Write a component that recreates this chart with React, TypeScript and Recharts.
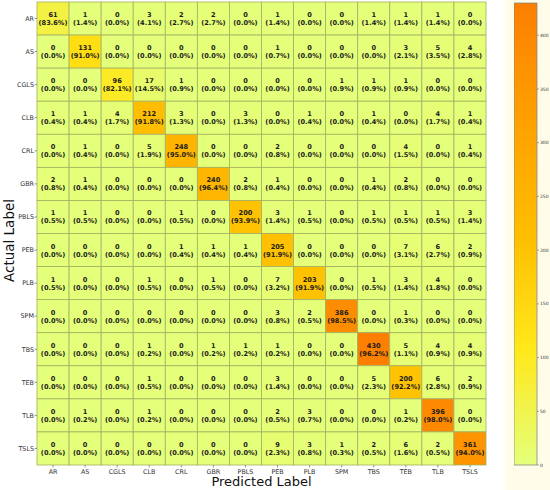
import React from 'react';
import { ScatterChart, Scatter, XAxis, YAxis, ReferenceArea } from 'recharts';

const LABELS = ['AR', 'AS', 'CGLS', 'CLB', 'CRL', 'GBR', 'PBLS', 'PEB', 'PLB', 'SPM', 'TBS', 'TEB', 'TLB', 'TSLS'];

// rows = actual, columns = predicted
const COUNTS: number[][] = [
  [61, 1, 0, 3, 2, 2, 0, 1, 0, 0, 1, 1, 1, 0],
  [0, 131, 0, 0, 0, 0, 0, 1, 0, 0, 0, 3, 5, 4],
  [0, 0, 96, 17, 1, 0, 0, 0, 0, 1, 1, 1, 0, 0],
  [1, 1, 4, 212, 3, 0, 3, 0, 1, 0, 1, 0, 4, 1],
  [0, 1, 0, 5, 248, 0, 0, 2, 0, 0, 0, 4, 0, 1],
  [2, 1, 0, 0, 0, 240, 2, 1, 0, 0, 1, 2, 0, 0],
  [1, 1, 0, 0, 1, 0, 200, 3, 1, 0, 1, 1, 1, 3],
  [0, 0, 0, 0, 1, 1, 1, 205, 0, 0, 0, 7, 6, 2],
  [1, 0, 0, 1, 0, 1, 0, 7, 203, 0, 1, 3, 4, 0],
  [0, 0, 0, 0, 0, 0, 0, 3, 2, 386, 0, 1, 0, 0],
  [0, 0, 0, 1, 0, 1, 1, 1, 0, 0, 430, 5, 4, 4],
  [0, 0, 0, 1, 0, 0, 0, 3, 0, 0, 5, 200, 6, 2],
  [0, 1, 0, 1, 0, 0, 0, 2, 3, 0, 0, 1, 396, 0],
  [0, 0, 0, 0, 0, 0, 0, 9, 3, 1, 2, 6, 2, 361],
];

const COLORBAR_TICKS = [0, 50, 100, 150, 200, 250, 300, 350, 400];
const VMAX = 430;

// matplotlib Wistia
const WISTIA: [number, number, number, number][] = [
  [0, 228, 255, 122],
  [0.25, 255, 232, 26],
  [0.5, 255, 189, 0],
  [0.75, 255, 160, 0],
  [1, 252, 127, 0],
];

function wistia(t: number) {
  t = Math.max(0, Math.min(1, t));
  for (let i = 1; i < WISTIA.length; i++) {
    const a = WISTIA[i - 1];
    const b = WISTIA[i];
    if (t <= b[0]) {
      const f = (t - a[0]) / (b[0] - a[0]);
      const c = [1, 2, 3].map(k => Math.round(a[k] + (b[k] - a[k]) * f));
      return `rgb(${c[0]},${c[1]},${c[2]})`;
    }
  }
  return 'rgb(252,127,0)';
}

const W = 550;
const H = 490;
const MARGIN = { top: 2, right: 64, bottom: 0, left: 0 };
const Y_AXIS_W = 37;
const X_AXIS_H = 25;
const PLOT_W = W - MARGIN.left - MARGIN.right - Y_AXIS_W;
const PLOT_H = H - MARGIN.top - MARGIN.bottom - X_AXIS_H;
const PLOT_BOTTOM = MARGIN.top + PLOT_H;
const CELL_W = PLOT_W / LABELS.length;
const CELL_H = PLOT_H / LABELS.length;

const CB_W = 36;
const CB_PLOT_W = 23;

const cells = COUNTS.flatMap((row, r) => {
  const total = row.reduce((a, b) => a + b, 0);
  return row.map((v, c) => ({
    x: c + 0.5,
    y: r + 0.5,
    v,
    pct: total > 0 ? ((v / total) * 100).toFixed(1) : '0.0',
  }));
});

const centers = LABELS.map((_, i) => i + 0.5);

const CellShape = (props: any) => {
  const { cx, cy, payload } = props;
  if (cx == null || cy == null) return null;
  return (
    <g>
      <rect
        x={cx - CELL_W / 2}
        y={cy - CELL_H / 2}
        width={CELL_W}
        height={CELL_H}
        fill={wistia(payload.v / VMAX)}
        stroke="#a3b060"
        strokeWidth={0.8}
      />
      <text x={cx} y={cy - 1.5} textAnchor="middle" fontSize={6.6} fontWeight="bold" fill="#1a1a1a" fontFamily="DejaVu Sans">
        {payload.v}
      </text>
      <text x={cx} y={cy + 6.5} textAnchor="middle" fontSize={6.6} fontWeight="bold" fill="#1a1a1a" fontFamily="DejaVu Sans">
        ({payload.pct}%)
      </text>
    </g>
  );
};

const XTick = (props: any) => {
  const { x, payload } = props;
  const y = PLOT_BOTTOM;
  return (
    <g>
      <line x1={x} x2={x} y1={y} y2={y + 2.5} stroke="#555" strokeWidth={0.6} />
      <text x={x} y={y + 8.5} textAnchor="middle" fontSize={6.4} fill="#333" fontFamily="DejaVu Sans">
        {LABELS[Math.floor(payload.value)]}
      </text>
    </g>
  );
};

const YTick = (props: any) => {
  const { y, payload } = props;
  const x = MARGIN.left + Y_AXIS_W;
  return (
    <g>
      <line x1={x - 2.5} x2={x} y1={y} y2={y} stroke="#555" strokeWidth={0.6} />
      <text x={x - 3} y={y + 2.3} textAnchor="end" fontSize={6.4} fill="#333" fontFamily="DejaVu Sans">
        {LABELS[Math.floor(payload.value)]}
      </text>
    </g>
  );
};

const CbTick = (props: any) => {
  const { y, payload } = props;
  const x = CB_PLOT_W;
  return (
    <g>
      <line x1={x} x2={x + 2} y1={y} y2={y} stroke="#555" strokeWidth={0.5} />
      <text x={x + 3} y={y + 1.6} fontSize={4.5} fill="#333" fontFamily="DejaVu Sans">
        {payload.value}
      </text>
    </g>
  );
};

const YLabel = (props: any) => {
  const vb = props.viewBox || { y: MARGIN.top, height: PLOT_H };
  const cy = vb.y + vb.height / 2 + 7;
  return (
    <text x={14} y={cy} transform={`rotate(-90 14 ${cy})`} textAnchor="middle" fontSize={13.5} fill="#111" fontFamily="DejaVu Sans">
      Actual Label
    </text>
  );
};

const XLabel = () => (
  <text x={MARGIN.left + Y_AXIS_W + PLOT_W / 2} y={H - 4} textAnchor="middle" fontSize={13} fill="#111" fontFamily="DejaVu Sans">
    Predicted Label
  </text>
);

export default function App() {
  return (
    <div style={{ position: 'absolute', left: 0, top: 0, width: W, height: H, background: '#fff', fontFamily: 'DejaVu Sans' }}>
      <div style={{ position: 'absolute', left: 505, top: 0, width: 45, height: H, background: '#fffde9' }} />
      <div style={{ position: 'absolute', left: 0, top: 0 }}>
        <ScatterChart width={W} height={H} margin={MARGIN}>
          <XAxis
            type="number"
            dataKey="x"
            domain={[0, LABELS.length]}
            ticks={centers}
            interval={0}
            height={X_AXIS_H}
            axisLine={false}
            tickLine={false}
            tick={<XTick />}
            label={<XLabel />}
          />
          <YAxis
            type="number"
            dataKey="y"
            domain={[0, LABELS.length]}
            reversed
            ticks={centers}
            interval={0}
            width={Y_AXIS_W}
            axisLine={false}
            tickLine={false}
            tick={<YTick />}
            label={<YLabel />}
          />
          <Scatter data={cells} shape={CellShape} isAnimationActive={false} />
        </ScatterChart>
      </div>
      <div style={{ position: 'absolute', left: 514, top: 0 }}>
        <ScatterChart width={CB_W} height={H} margin={{ top: 3, right: 0, bottom: 25, left: 0 }}>
          <defs>
            <linearGradient id="wistiaGrad" x1="0" y1="1" x2="0" y2="0">
              {WISTIA.map(s => (
                <stop key={s[0]} offset={s[0]} stopColor={`rgb(${s[1]},${s[2]},${s[3]})`} />
              ))}
            </linearGradient>
          </defs>
          <XAxis type="number" dataKey="x" domain={[0, 1]} hide />
          <YAxis
            type="number"
            dataKey="y"
            domain={[0, VMAX]}
            orientation="right"
            ticks={COLORBAR_TICKS}
            interval={0}
            width={CB_W - CB_PLOT_W}
            axisLine={false}
            tickLine={false}
            tick={<CbTick />}
          />
          <ReferenceArea x1={0} x2={1} y1={0} y2={VMAX} fill="url(#wistiaGrad)" fillOpacity={1} stroke="#888" strokeWidth={0.8} />
          <Scatter data={[{ x: 0.5, y: 0 }]} fill="none" shape={() => null} isAnimationActive={false} />
        </ScatterChart>
      </div>
    </div>
  );
}
